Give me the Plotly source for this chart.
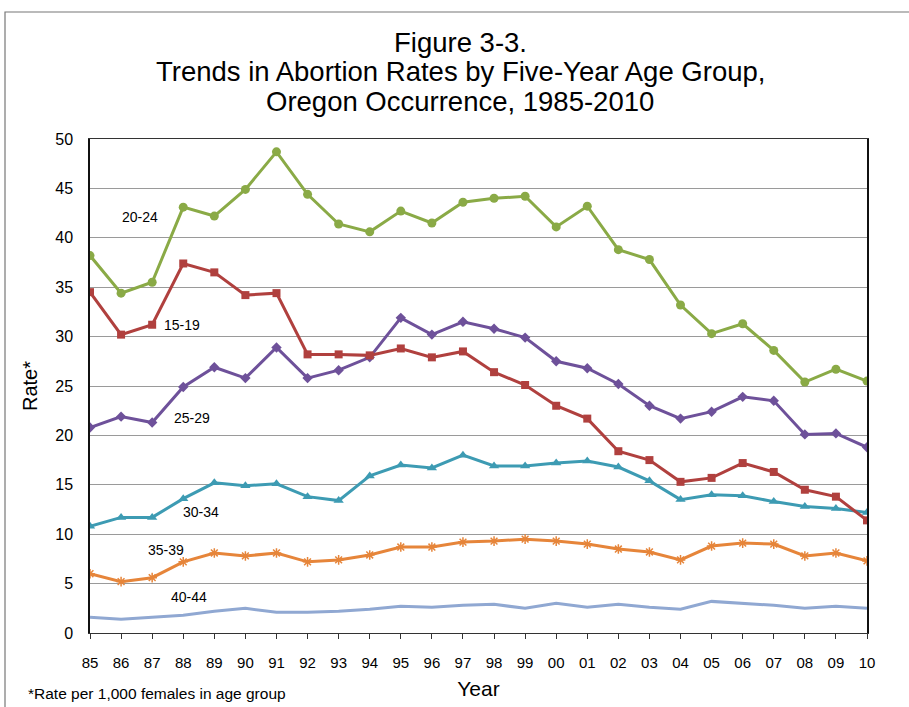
import plotly.graph_objects as go

years = ["85","86","87","88","89","90","91","92","93","94","95","96","97",
         "98","99","00","01","02","03","04","05","06","07","08","09","10"]

r_15_19 = [34.5,30.2,31.2,37.4,36.5,34.2,34.4,28.2,28.2,28.1,28.8,27.9,28.5,
           26.4,25.1,23.0,21.7,18.4,17.5,15.3,15.7,17.2,16.3,14.5,13.8,11.4]
r_20_24 = [38.2,34.4,35.5,43.1,42.2,44.9,48.7,44.4,41.4,40.6,42.7,41.5,43.6,
           44.0,44.2,41.1,43.2,38.8,37.8,33.2,30.3,31.3,28.6,25.4,26.7,25.5]
r_25_29 = [20.8,21.9,21.3,24.9,26.9,25.8,28.9,25.8,26.6,27.9,31.9,30.2,31.5,
           30.8,29.9,27.5,26.8,25.2,23.0,21.7,22.4,23.9,23.5,20.1,20.2,18.8]
r_30_34 = [10.8,11.7,11.7,13.6,15.2,14.9,15.1,13.8,13.4,15.9,17.0,16.7,18.0,
           16.9,16.9,17.2,17.4,16.8,15.4,13.5,14.0,13.9,13.3,12.8,12.6,12.2]
r_35_39 = [6.0,5.2,5.6,7.2,8.1,7.8,8.1,7.2,7.4,7.9,8.7,8.7,9.2,
           9.3,9.5,9.3,9.0,8.5,8.2,7.4,8.8,9.1,9.0,7.8,8.1,7.3]
r_40_44 = [1.6,1.4,1.6,1.8,2.2,2.5,2.1,2.1,2.2,2.4,2.7,2.6,2.8,
           2.9,2.5,3.0,2.6,2.9,2.6,2.4,3.2,3.0,2.8,2.5,2.7,2.5]

y_ticks = [0, 5, 10, 15, 20, 25, 30, 35, 40, 45, 50]
title_lines = ["Figure 3-3.",
               "Trends in Abortion Rates by Five-Year Age Group,",
               "Oregon Occurrence, 1985-2010"]

x = list(range(len(years)))
FONT = "Liberation Sans, Arial, sans-serif"

fig = go.Figure()

series = [
    ("40-44", r_40_44, "#90A8D2", None, 8),
    ("35-39", r_35_39, "#E6853A", "asterisk-open", 8),
    ("30-34", r_30_34, "#3D9BB3", "triangle-up", 9),
    ("25-29", r_25_29, "#6E519A", "diamond", 8),
    ("15-19", r_15_19, "#B0403E", "square", 8),
    ("20-24", r_20_24, "#8AAA46", "circle", 9),
]
for name, vals, col, sym, sz in series:
    if sym is None:
        fig.add_trace(go.Scatter(x=x, y=vals, mode="lines", name=name,
                                 line=dict(color=col, width=3)))
    else:
        mk = dict(symbol=sym, size=sz, color=col)
        if sym == "asterisk-open":
            mk["line"] = dict(color=col, width=1.5)
        fig.add_trace(go.Scatter(x=x, y=vals, mode="lines+markers", name=name,
                                 line=dict(color=col, width=3), marker=mk))

labels = [("20-24", 1.6, 42.1), ("15-19", 2.96, 31.2), ("25-29", 3.28, 21.8),
          ("30-34", 3.57, 12.2), ("35-39", 2.44, 8.4), ("40-44", 3.18, 3.65)]
for t, lx, ly in labels:
    fig.add_annotation(x=lx, y=ly, text=t, showarrow=False,
                       font=dict(family=FONT, size=14, color="#000"))

pw, ph = 777, 494   # plot area size in px
L, T = 90, 139

# Title (three lines, Excel-like tight spacing)
for i, line in enumerate(title_lines):
    ypix = 42 + i * 29.5
    fig.add_annotation(xref="paper", yref="paper", x=(460 - L) / pw,
                       y=(633 - ypix) / ph, text=line, showarrow=False,
                       xanchor="center", yanchor="middle",
                       font=dict(family=FONT, size=27.5, color="#000"))

# Footnote
fig.add_annotation(xref="paper", yref="paper", x=(26 - L) / pw, y=(633 - 693) / ph,
                   text="*Rate per 1,000 females in age group", showarrow=False,
                   xanchor="left", yanchor="middle",
                   font=dict(family=FONT, size=15.5, color="#000"))

# Outer chart border
fig.add_shape(type="rect", xref="paper", yref="paper",
              x0=(5 - L) / pw, x1=(930 - L) / pw,
              y0=(633 - 730) / ph, y1=(633 - 12) / ph,
              line=dict(color="#777", width=1.2), fillcolor="rgba(0,0,0,0)",
              layer="below")

fig.update_layout(
    width=909, height=707,
    margin=dict(l=L, r=42, t=T, b=74, autoexpand=False),
    paper_bgcolor="white", plot_bgcolor="white",
    showlegend=False,
    font=dict(family=FONT, color="#000"),
    xaxis=dict(range=[0, 25], tickmode="array", tickvals=x, ticktext=years,
               ticks="outside", ticklen=5, tickcolor="#333",
               showgrid=False, zeroline=False,
               showline=True, linecolor="#333", linewidth=1.2, mirror=True,
               tickfont=dict(size=15, family=FONT), ticklabelstandoff=11,
               title=dict(text="Year", font=dict(size=21, family=FONT), standoff=11)),
    yaxis=dict(range=[0, 50], tickmode="array", tickvals=y_ticks,
               showgrid=True, gridcolor="#9a9a9a", gridwidth=1,
               zeroline=False, ticks="",
               showline=True, linecolor="#111", linewidth=1.5, mirror=True,
               tickfont=dict(size=16, family=FONT), ticklabelstandoff=12,
               title=dict(text="Rate*", font=dict(size=20, family=FONT), standoff=12)),
)

fig.write_html("out.html", config={"displayModeBar": False},
               post_script="document.body.style.margin='0';document.body.style.padding='0';")
